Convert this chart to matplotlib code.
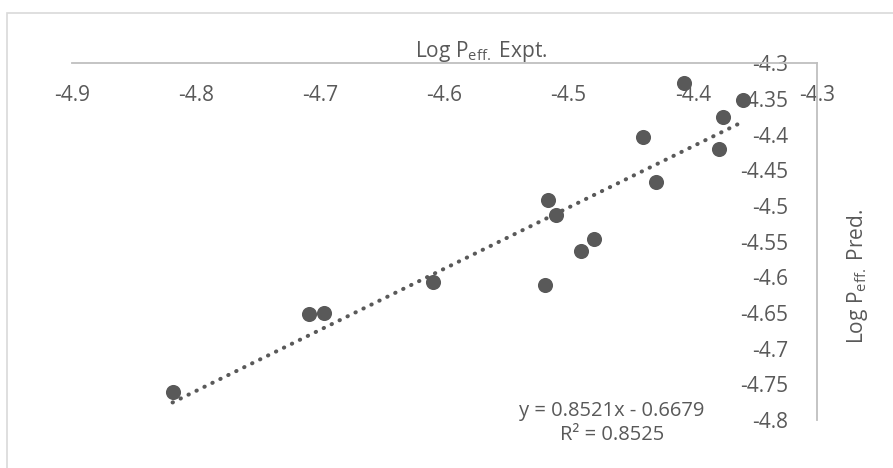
import numpy as np
import matplotlib.pyplot as plt
from matplotlib.patches import Rectangle

plt.rcParams['font.family'] = ['Open Sans', 'DejaVu Sans']
plt.rcParams['mathtext.fontset'] = 'custom'
plt.rcParams['mathtext.rm'] = 'Open Sans'
plt.rcParams['mathtext.default'] = 'regular'

# --- data ---
log_expt = [-4.819, -4.709, -4.697, -4.609, -4.519, -4.517, -4.510, -4.490,
            -4.480, -4.440, -4.430, -4.407, -4.376, -4.379, -4.360]
log_pred = [-4.761, -4.652, -4.650, -4.607, -4.611, -4.491, -4.513, -4.563,
            -4.546, -4.404, -4.467, -4.327, -4.375, -4.420, -4.352]
x_ticks = [-4.9, -4.8, -4.7, -4.6, -4.5, -4.4, -4.3]
y_ticks = [-4.3, -4.35, -4.4, -4.45, -4.5, -4.55, -4.6, -4.65, -4.7, -4.75, -4.8]
eq_text = "y = 0.8521x - 0.6679\nR² = 0.8525"

grey = '#595959'
axis_grey = '#bfbfbf'

fig = plt.figure(figsize=(8.93, 4.68), dpi=100)
ax = fig.add_axes([72 / 893, 1 - 420 / 468, 745 / 893, (420 - 63.3) / 468])

# chart area border (Excel style, cropped at right/bottom)
fig.patches.append(Rectangle((7 / 893, -0.1), 1.2, 1.1 - 13 / 468,
                             transform=fig.transFigure, fill=False,
                             ec='#d9d9d9', lw=1.2))

ax.scatter(log_expt, log_pred, s=118, color=grey, zorder=3, linewidths=0)

# linear trendline
coef = np.polyfit(log_expt, log_pred, 1)
xs = np.array([min(log_expt), max(log_expt)])
ax.plot(xs, np.polyval(coef, xs), color=grey, lw=2.9,
        linestyle=(0, (0.1, 2.1)), dash_capstyle='round', zorder=2)

ax.set_xlim(-4.9, -4.3)
ax.set_ylim(-4.8, -4.3)
ax.set_facecolor('none')

for side in ['left', 'bottom']:
    ax.spines[side].set_visible(False)
for side in ['top', 'right']:
    ax.spines[side].set_color(axis_grey)
    ax.spines[side].set_linewidth(1.3)

ax.set_xticks(x_ticks)
ax.set_xticklabels([f'{v:g}' for v in x_ticks])
ax.set_yticks(y_ticks)
ax.set_yticklabels([f'{v:g}' for v in y_ticks])

ax.tick_params(axis='x', bottom=False, labelbottom=False, top=False,
               labeltop=True, pad=-34, labelsize=15, labelcolor=grey)
ax.tick_params(axis='y', left=False, labelleft=False, right=False,
               labelright=True, pad=-24, labelsize=15, labelcolor=grey)
plt.setp(ax.get_yticklabels(), ha='right')
plt.setp(ax.get_xticklabels(), va='bottom')

fig.text(481 / 893, 1 - 52 / 468, r'Log P$_{eff.}$ Expt.', ha='center',
         va='center', fontsize=15, color=grey)
fig.text(857 / 893, 1 - 276 / 468, r'Log P$_{eff.}$ Pred.', ha='center',
         va='center', fontsize=15, color=grey, rotation=90)

fig.text(612 / 893, 1 - 423 / 468, eq_text, ha='center', va='center',
         fontsize=14.5, color=grey, linespacing=1.3)

fig.savefig('out.png', dpi=100)
